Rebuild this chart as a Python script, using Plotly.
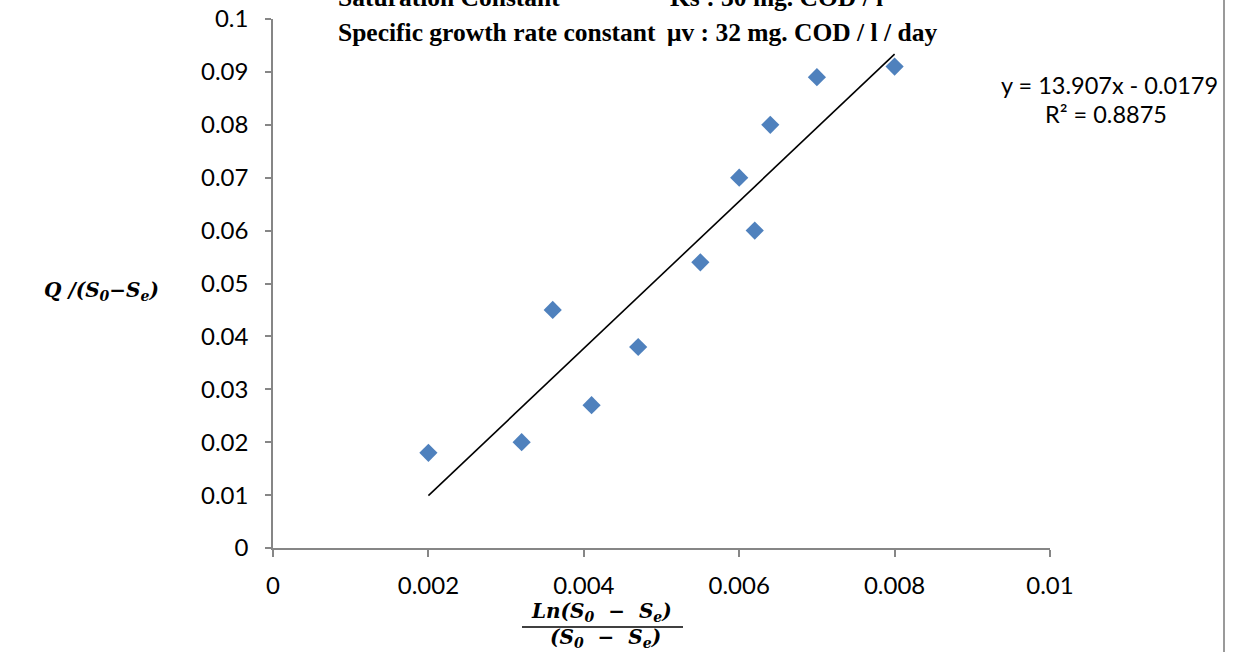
import numpy as np
import plotly.graph_objects as go

# Data
x_vals = [0.0020, 0.0032, 0.0036, 0.0041, 0.0047, 0.0055, 0.0060, 0.0062, 0.0064, 0.0070, 0.0080]
y_vals = [0.018, 0.020, 0.045, 0.027, 0.038, 0.054, 0.070, 0.060, 0.080, 0.089, 0.091]

slope = 13.907
intercept = -0.0179
r_squared = 0.8875

x_ticks = [0, 0.002, 0.004, 0.006, 0.008, 0.01]
x_tick_labels = ["0", "0.002", "0.004", "0.006", "0.008", "0.01"]
y_ticks = [0, 0.01, 0.02, 0.03, 0.04, 0.05, 0.06, 0.07, 0.08, 0.09, 0.1]
y_tick_labels = ["0", "0.01", "0.02", "0.03", "0.04", "0.05", "0.06", "0.07", "0.08", "0.09", "0.1"]

W, H = 1234, 652
L, R, T, B = 273, 1050, 19, 548


def px(xp):
    return (xp - L) / (R - L)


def py(yp):
    return (B - yp) / (B - T)


fig = go.Figure()

fig.add_trace(go.Scatter(
    x=x_vals, y=y_vals, mode="markers",
    marker=dict(symbol="diamond", size=14, color="#4F81BD",
                line=dict(width=0)),
    showlegend=False,
))

x_fit = [min(x_vals), max(x_vals)]
y_fit = [slope * v + intercept for v in x_fit]
fig.add_trace(go.Scatter(
    x=x_fit, y=y_fit, mode="lines",
    line=dict(color="black", width=1.6),
    showlegend=False,
))

tick_font = dict(family="Lato, Carlito, Calibri, sans-serif", size=24, color="#000000")
axis_color = "#868686"

fig.update_layout(
    width=W, height=H,
    margin=dict(l=L, r=W - R, t=T, b=H - B, autoexpand=False),
    paper_bgcolor="white", plot_bgcolor="white",
    xaxis=dict(range=[0, 0.01], tickvals=x_ticks, ticktext=x_tick_labels,
               showgrid=False, zeroline=False, showline=True, automargin=False,
               linecolor=axis_color, linewidth=1.5, ticklabeloverflow="allow",
               ticks="outside", ticklen=7, tickwidth=1.5, tickcolor=axis_color,
               tickfont=tick_font, ticklabelstandoff=8),
    yaxis=dict(range=[0, 0.1], tickvals=y_ticks, ticktext=y_tick_labels,
               showgrid=False, zeroline=False, showline=True, automargin=False,
               linecolor=axis_color, linewidth=1.5, ticklabeloverflow="allow",
               ticks="outside", ticklen=6, tickwidth=1.5, tickcolor=axis_color,
               tickfont=tick_font, ticklabelstandoff=12),
)

serif_bold = dict(family="Liberation Serif, Times New Roman, serif", size=25.5, color="#000000")
label_font = dict(family="DejaVu Serif, serif", size=20, color="#000000")
eq_font = dict(family="Lato, Carlito, Calibri, sans-serif", size=23.5, color="#000000")
sp = "\u00a0"

annotations = [
    dict(text="<b>Saturation Constant</b>", x=px(336), y=py(-3), xanchor="left", yanchor="middle",
         font=serif_bold),
    dict(text="<b>Ks : 30 mg. COD / l</b>", x=px(668), y=py(-3), xanchor="left", yanchor="middle",
         font=serif_bold),
    dict(text="<b>Specific growth rate constant</b>", x=px(336), y=py(32), xanchor="left", yanchor="middle",
         font=serif_bold),
    dict(text="<b>μv : 32 mg. COD / l / day</b>", x=px(665), y=py(32), xanchor="left", yanchor="middle",
         font=serif_bold),
    dict(text=f"y = {slope}x - {abs(intercept)}", x=px(1109), y=py(85), xanchor="center", yanchor="middle",
         font=eq_font),
    dict(text=f"R² = {r_squared}", x=px(1106), y=py(114), xanchor="center", yanchor="middle",
         font=eq_font),
    dict(text="<b><i>Q /(S<sub>0</sub>−S<sub>e</sub>)</i></b>", x=px(101), y=py(291),
         xanchor="center", yanchor="middle", font=label_font),
    dict(text=f"<b><i>Ln(S<sub>0</sub>{sp}{sp}−{sp}{sp}S<sub>e</sub>)</i></b>", x=px(601), y=py(612),
         xanchor="center", yanchor="middle", font=label_font),
    dict(text=f"<b><i>(S<sub>0</sub>{sp}{sp}−{sp}{sp}S<sub>e</sub>)</i></b>", x=px(605), y=py(638),
         xanchor="center", yanchor="middle", font=label_font),
]
for a in annotations:
    a.update(xref="paper", yref="paper", showarrow=False)
fig.update_layout(annotations=annotations)

fig.add_shape(type="line", xref="paper", yref="paper",
              x0=px(522), x1=px(683), y0=py(627), y1=py(627),
              line=dict(color="black", width=1.5))
fig.add_shape(type="line", xref="paper", yref="paper",
              x0=px(1224), x1=px(1224), y0=py(0), y1=py(652),
              line=dict(color="#9a9a9a", width=2))

fig.write_html("out.html", config={"displayModeBar": False},
               post_script="document.body.style.margin='0';")
